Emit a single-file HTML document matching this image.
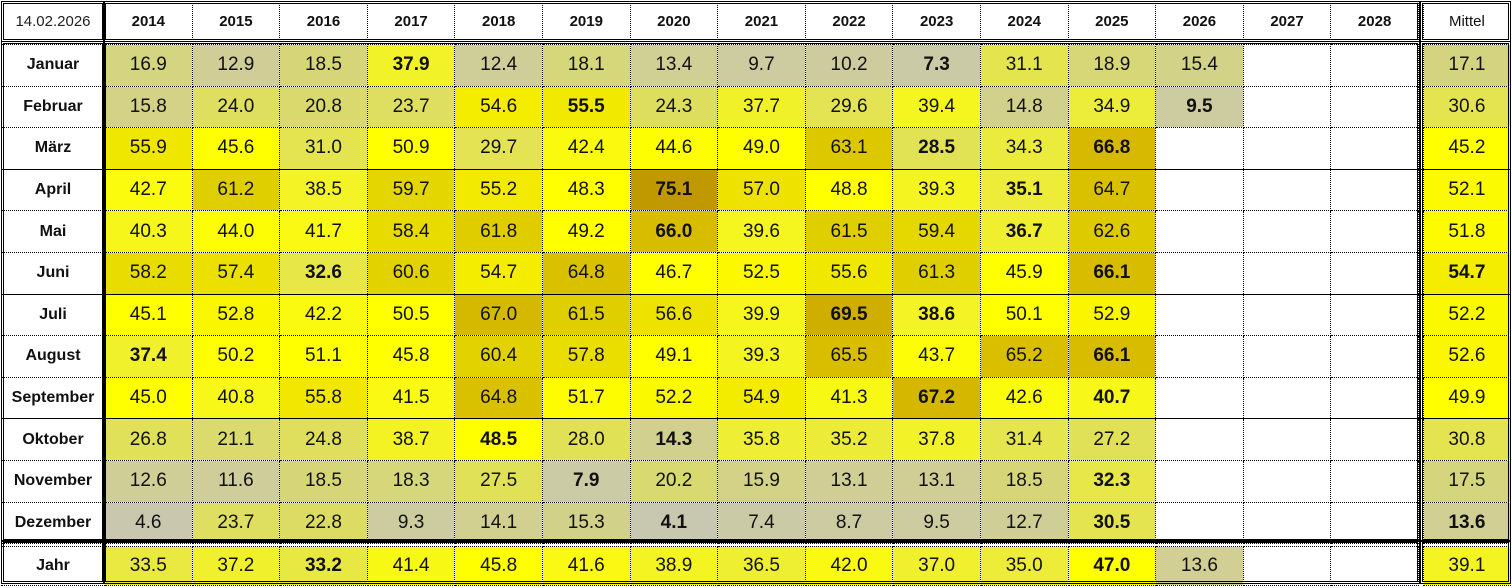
<!DOCTYPE html>
<html><head><meta charset="utf-8">
<style>
body{margin:0;width:1512px;height:588px;background:#fff;position:relative;overflow:hidden;font-family:"Liberation Sans",Arial,sans-serif;}
table{position:absolute;left:1px;top:1px;border-collapse:collapse;table-layout:fixed;}
td{border:1px dotted #000;text-align:center;padding:0;font-size:19px;color:#111;white-space:nowrap;overflow:hidden;}
td.l{font-weight:bold;font-size:16px;}
td.h{font-weight:bold;font-size:15px;}
td.s{border:none;background:#fff;}
tr.sp td{border:none;height:1px;font-size:0;line-height:0;}
tr.q td{border-bottom:1px solid #000;}
b{font-weight:bold;}
.box{position:absolute;border:3px double #000;box-sizing:border-box;pointer-events:none;}
</style></head><body>
<table id="t">
<colgroup><col style="width:103px"><col span="15" style="width:87.6px"><col style="width:5px"><col style="width:87px"></colgroup>
<tr style="height:40px"><td style="font-size:15px;color:#222">14.02.2026</td><td class="h">2014</td><td class="h">2015</td><td class="h">2016</td><td class="h">2017</td><td class="h">2018</td><td class="h">2019</td><td class="h">2020</td><td class="h">2021</td><td class="h">2022</td><td class="h">2023</td><td class="h">2024</td><td class="h">2025</td><td class="h">2026</td><td class="h">2027</td><td class="h">2028</td><td class="s"></td><td style="font-size:15px">Mittel</td></tr>
<tr class="sp"><td colspan="18" style="height:2px"></td></tr>
<tr style="height:41.6px"><td class="l">Januar</td><td class="v">16.9</td><td class="v">12.9</td><td class="v">18.5</td><td class="v"><b>37.9</b></td><td class="v">12.4</td><td class="v">18.1</td><td class="v">13.4</td><td class="v">9.7</td><td class="v">10.2</td><td class="v"><b>7.3</b></td><td class="v">31.1</td><td class="v">18.9</td><td class="v">15.4</td><td></td><td></td><td class="s"></td><td class="v">17.1</td></tr>
<tr style="height:41.6px"><td class="l">Februar</td><td class="v">15.8</td><td class="v">24.0</td><td class="v">20.8</td><td class="v">23.7</td><td class="v">54.6</td><td class="v"><b>55.5</b></td><td class="v">24.3</td><td class="v">37.7</td><td class="v">29.6</td><td class="v">39.4</td><td class="v">14.8</td><td class="v">34.9</td><td class="v"><b>9.5</b></td><td></td><td></td><td class="s"></td><td class="v">30.6</td></tr>
<tr class="q" style="height:41.6px"><td class="l">März</td><td class="v">55.9</td><td class="v">45.6</td><td class="v">31.0</td><td class="v">50.9</td><td class="v">29.7</td><td class="v">42.4</td><td class="v">44.6</td><td class="v">49.0</td><td class="v">63.1</td><td class="v"><b>28.5</b></td><td class="v">34.3</td><td class="v"><b>66.8</b></td><td></td><td></td><td></td><td class="s"></td><td class="v">45.2</td></tr>
<tr style="height:41.6px"><td class="l">April</td><td class="v">42.7</td><td class="v">61.2</td><td class="v">38.5</td><td class="v">59.7</td><td class="v">55.2</td><td class="v">48.3</td><td class="v"><b>75.1</b></td><td class="v">57.0</td><td class="v">48.8</td><td class="v">39.3</td><td class="v"><b>35.1</b></td><td class="v">64.7</td><td></td><td></td><td></td><td class="s"></td><td class="v">52.1</td></tr>
<tr style="height:41.6px"><td class="l">Mai</td><td class="v">40.3</td><td class="v">44.0</td><td class="v">41.7</td><td class="v">58.4</td><td class="v">61.8</td><td class="v">49.2</td><td class="v"><b>66.0</b></td><td class="v">39.6</td><td class="v">61.5</td><td class="v">59.4</td><td class="v"><b>36.7</b></td><td class="v">62.6</td><td></td><td></td><td></td><td class="s"></td><td class="v">51.8</td></tr>
<tr class="q" style="height:41.6px"><td class="l">Juni</td><td class="v">58.2</td><td class="v">57.4</td><td class="v"><b>32.6</b></td><td class="v">60.6</td><td class="v">54.7</td><td class="v">64.8</td><td class="v">46.7</td><td class="v">52.5</td><td class="v">55.6</td><td class="v">61.3</td><td class="v">45.9</td><td class="v"><b>66.1</b></td><td></td><td></td><td></td><td class="s"></td><td class="v"><b>54.7</b></td></tr>
<tr style="height:41.6px"><td class="l">Juli</td><td class="v">45.1</td><td class="v">52.8</td><td class="v">42.2</td><td class="v">50.5</td><td class="v">67.0</td><td class="v">61.5</td><td class="v">56.6</td><td class="v">39.9</td><td class="v"><b>69.5</b></td><td class="v"><b>38.6</b></td><td class="v">50.1</td><td class="v">52.9</td><td></td><td></td><td></td><td class="s"></td><td class="v">52.2</td></tr>
<tr style="height:41.6px"><td class="l">August</td><td class="v"><b>37.4</b></td><td class="v">50.2</td><td class="v">51.1</td><td class="v">45.8</td><td class="v">60.4</td><td class="v">57.8</td><td class="v">49.1</td><td class="v">39.3</td><td class="v">65.5</td><td class="v">43.7</td><td class="v">65.2</td><td class="v"><b>66.1</b></td><td></td><td></td><td></td><td class="s"></td><td class="v">52.6</td></tr>
<tr class="q" style="height:41.6px"><td class="l">September</td><td class="v">45.0</td><td class="v">40.8</td><td class="v">55.8</td><td class="v">41.5</td><td class="v">64.8</td><td class="v">51.7</td><td class="v">52.2</td><td class="v">54.9</td><td class="v">41.3</td><td class="v"><b>67.2</b></td><td class="v">42.6</td><td class="v"><b>40.7</b></td><td></td><td></td><td></td><td class="s"></td><td class="v">49.9</td></tr>
<tr style="height:41.6px"><td class="l">Oktober</td><td class="v">26.8</td><td class="v">21.1</td><td class="v">24.8</td><td class="v">38.7</td><td class="v"><b>48.5</b></td><td class="v">28.0</td><td class="v"><b>14.3</b></td><td class="v">35.8</td><td class="v">35.2</td><td class="v">37.8</td><td class="v">31.4</td><td class="v">27.2</td><td></td><td></td><td></td><td class="s"></td><td class="v">30.8</td></tr>
<tr style="height:41.6px"><td class="l">November</td><td class="v">12.6</td><td class="v">11.6</td><td class="v">18.5</td><td class="v">18.3</td><td class="v">27.5</td><td class="v"><b>7.9</b></td><td class="v">20.2</td><td class="v">15.9</td><td class="v">13.1</td><td class="v">13.1</td><td class="v">18.5</td><td class="v"><b>32.3</b></td><td></td><td></td><td></td><td class="s"></td><td class="v">17.5</td></tr>
<tr style="height:41.6px"><td class="l">Dezember</td><td class="v">4.6</td><td class="v">23.7</td><td class="v">22.8</td><td class="v">9.3</td><td class="v">14.1</td><td class="v">15.3</td><td class="v"><b>4.1</b></td><td class="v">7.4</td><td class="v">8.7</td><td class="v">9.5</td><td class="v">12.7</td><td class="v"><b>30.5</b></td><td></td><td></td><td></td><td class="s"></td><td class="v"><b>13.6</b></td></tr>
<tr class="sp"><td colspan="18" style="height:2px"></td></tr>
<tr style="height:39px"><td class="l">Jahr</td><td class="v">33.5</td><td class="v">37.2</td><td class="v"><b>33.2</b></td><td class="v">41.4</td><td class="v">45.8</td><td class="v">41.6</td><td class="v">38.9</td><td class="v">36.5</td><td class="v">42.0</td><td class="v">37.0</td><td class="v">35.0</td><td class="v"><b>47.0</b></td><td class="v">13.6</td><td></td><td></td><td class="s"></td><td class="v">39.1</td></tr>
</table>
<div class="box" style="left:1px;top:1px;width:104px;height:41px"></div>
<div class="box" style="left:103px;top:1px;width:1317px;height:41px"></div>
<div class="box" style="left:1420px;top:1px;width:91px;height:41px"></div>
<div class="box" style="left:1px;top:41px;width:104px;height:501px"></div>
<div class="box" style="left:103px;top:41px;width:1317px;height:501px"></div>
<div class="box" style="left:1420px;top:41px;width:91px;height:501px"></div>
<div class="box" style="left:1px;top:540px;width:104px;height:44px"></div>
<div class="box" style="left:103px;top:540px;width:1317px;height:44px"></div>
<div class="box" style="left:1420px;top:540px;width:91px;height:44px"></div>
<script>
var st=[[4,200,200,176],[13,208,206,150],[17,212,212,128],[24,222,222,95],[31,228,228,80],[38,242,242,40],[45,255,255,0],[51,255,255,0],[56,240,230,0],[61,224,208,0],[66,216,188,0],[75,192,152,0]];
function col(v){if(v<=st[0][0])return st[0].slice(1);for(var i=1;i<st.length;i++){if(v<=st[i][0]){var a=st[i-1],b=st[i],t=(v-a[0])/(b[0]-a[0]);return [0,1,2].map(function(k){return Math.round(a[k+1]+(b[k+1]-a[k+1])*t)})}}return st[st.length-1].slice(1);}
document.querySelectorAll('td.v').forEach(function(c){var v=parseFloat(c.textContent);var r=col(v);c.style.background='rgb('+r.join(',')+')';});
</script>
</body></html>
